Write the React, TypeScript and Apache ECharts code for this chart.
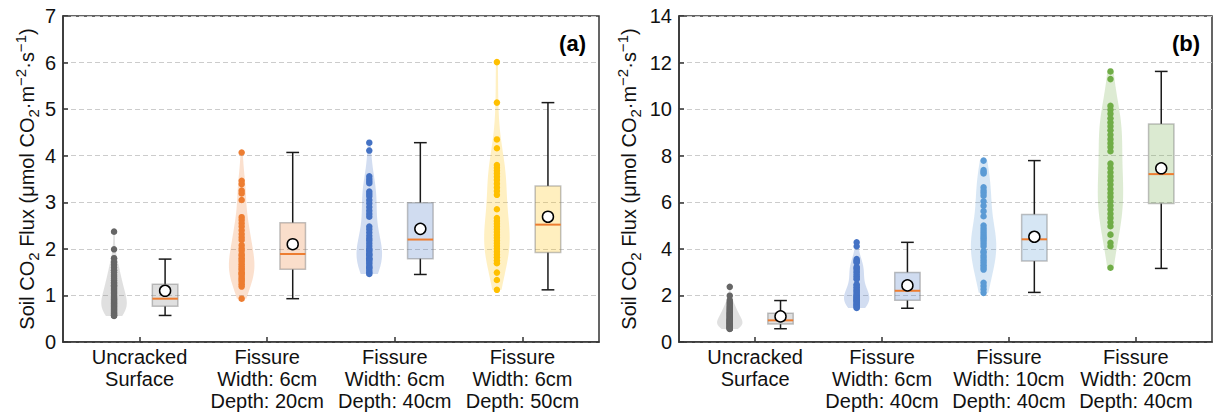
import React, { useEffect, useRef } from "react";
import * as echarts from "echarts";

const FONT = "'Liberation Sans', Arial, Helvetica, sans-serif";

// ---- categories / tick labels ----
const labelsA = [
  "Uncracked\nSurface",
  "Fissure\nWidth: 6cm\nDepth: 20cm",
  "Fissure\nWidth: 6cm\nDepth: 40cm",
  "Fissure\nWidth: 6cm\nDepth: 50cm",
];
const labelsB = [
  "Uncracked\nSurface",
  "Fissure\nWidth: 6cm\nDepth: 40cm",
  "Fissure\nWidth: 10cm\nDepth: 40cm",
  "Fissure\nWidth: 20cm\nDepth: 40cm",
];
const categoryTicks = [0, 1, 2, 3];

// ---- measured points (µmol CO2 m-2 s-1) ----
const uncracked = [2.37, 1.99, 1.8, 1.72, 1.66, 1.6, 1.54, 1.49, 1.44, 1.4, 1.36, 1.32, 1.28, 1.25, 1.22, 1.19, 1.16, 1.13, 1.1, 1.07, 1.04, 1.01, 0.98, 0.96, 0.94, 0.92, 0.9, 0.88, 0.86, 0.84, 0.82, 0.8, 0.78, 0.76, 0.74, 0.72, 0.7, 0.68, 0.66, 0.64, 0.62, 0.6, 0.58, 0.57, 0.56];
const w6d20 = [4.07, 3.46, 3.39, 3.25, 3.19, 3.05, 2.68, 2.62, 2.55, 2.48, 2.4, 2.32, 2.25, 2.19, 2.08, 2.01, 1.96, 1.89, 1.85, 1.8, 1.76, 1.72, 1.67, 1.62, 1.58, 1.55, 1.5, 1.47, 1.45, 1.4, 1.36, 1.33, 1.29, 1.24, 1.19, 0.93];
const w6d40 = [4.28, 4.11, 3.56, 3.5, 3.45, 3.41, 3.23, 3.18, 3.13, 3.05, 2.98, 2.9, 2.82, 2.75, 2.69, 2.48, 2.42, 2.35, 2.28, 2.22, 2.18, 2.12, 2.06, 2.0, 1.98, 1.95, 1.9, 1.88, 1.85, 1.8, 1.78, 1.76, 1.72, 1.68, 1.63, 1.6, 1.58, 1.53, 1.49, 1.46];
const w6d50 = [6.01, 5.14, 4.35, 4.16, 3.8, 3.74, 3.68, 3.62, 3.55, 3.48, 3.4, 3.32, 3.24, 3.16, 2.85, 2.66, 2.6, 2.54, 2.48, 2.42, 2.36, 2.3, 2.24, 2.18, 2.12, 2.06, 2.0, 1.94, 1.88, 1.82, 1.75, 1.69, 1.49, 1.33, 1.12];
const w10d40 = [7.79, 7.38, 7.3, 7.24, 6.64, 6.5, 6.4, 6.28, 6.04, 5.85, 5.62, 5.4, 5.0, 4.88, 4.78, 4.68, 4.58, 4.5, 4.42, 4.33, 4.22, 4.11, 3.9, 3.83, 3.7, 3.61, 3.5, 3.4, 3.3, 3.2, 3.11, 2.54, 2.4, 2.26, 2.11];
const w20d40 = [11.62, 11.29, 10.14, 9.97, 9.8, 9.61, 9.43, 9.26, 9.09, 8.9, 8.71, 8.54, 8.37, 8.19, 7.66, 7.47, 7.29, 7.11, 6.94, 6.76, 6.57, 6.4, 6.23, 6.04, 5.86, 5.69, 5.51, 5.33, 5.14, 4.97, 4.61, 4.26, 4.11, 3.19];

// ---- box statistics: [lower whisker, Q1, median, Q3, upper whisker, mean] ----
const statsUncracked = [0.57, 0.77, 0.93, 1.24, 1.78, 1.1];
const statsW6d20 = [0.93, 1.56, 1.89, 2.56, 4.07, 2.1];
const statsW6d40 = [1.45, 1.79, 2.2, 2.99, 4.28, 2.43];
const statsW6d50 = [1.12, 1.92, 2.52, 3.35, 5.14, 2.69];
const statsW10d40 = [2.13, 3.48, 4.41, 5.48, 7.79, 4.52];
const statsW20d40 = [3.16, 5.95, 7.21, 9.36, 11.62, 7.46];

// ---- colours ----
const GRAY = "#7f7f7f";
const GRAY_PT = "#666666";
const ORANGE = "#ED7D31";
const BLUE = "#4472C4";
const YELLOW = "#FFC000";
const LBLUE = "#5B9BD5";
const GREEN = "#70AD47";

const yTicksA = { min: 0, max: 7, interval: 1 };
const yTicksB = { min: 0, max: 14, interval: 2 };

function rgba(hex: string, a: number) {
  const h = hex.replace("#", "");
  const r = parseInt(h.slice(0, 2), 16);
  const g = parseInt(h.slice(2, 4), 16);
  const b = parseInt(h.slice(4, 6), 16);
  return `rgba(${r},${g},${b},${a})`;
}

// Gaussian KDE (Scott's rule) outline, clipped to data extrema
function violinPoly(vals: number[], center: number, halfW: number) {
  const n = vals.length;
  const mean = vals.reduce((a, b) => a + b, 0) / n;
  const sd = Math.sqrt(vals.reduce((a, b) => a + (b - mean) ** 2, 0) / (n - 1));
  const bw = sd * Math.pow(n, -0.2);
  const lo = Math.min(...vals);
  const hi = Math.max(...vals);
  const steps = 100;
  const ys: number[] = [];
  const ds: number[] = [];
  for (let k = 0; k <= steps; k++) {
    const y = lo + ((hi - lo) * k) / steps;
    let d = 0;
    for (const v of vals) d += Math.exp(-0.5 * ((y - v) / bw) ** 2);
    ys.push(y);
    ds.push(d);
  }
  const maxD = Math.max(...ds);
  const right = ys.map((y, k) => [center + (halfW * ds[k]) / maxD, y]);
  const left = ys.map((y, k) => [center - (halfW * ds[k]) / maxD, y]).reverse();
  return right.concat(left);
}

const yName = "Soil CO{sub|2} Flux (μmol CO{sub|2}·m{sup|−2}·s{sup|−1})";

function buildPanel(
  idx: number,
  groups: number[][],
  stats: number[][],
  colors: string[],
  ptColors: string[],
  labels: string[],
  yt: { min: number; max: number; interval: number },
  nameGap: number
) {
  const axisLineStyle = { color: "#333", width: 1.5 };
  const xAxis = {
    type: "value",
    gridIndex: idx,
    min: -0.6,
    max: 3.6,
    axisLine: { show: true, onZero: false, lineStyle: axisLineStyle },
    axisTick: { show: true, inside: true, length: 5, customValues: categoryTicks, lineStyle: axisLineStyle },
    axisLabel: {
      customValues: categoryTicks,
      formatter: (v: number) => labels[Math.round(v)] ?? "",
      fontSize: 20,
      lineHeight: 22,
      margin: 4,
      color: "#111",
      fontFamily: FONT,
    },
    splitLine: { show: false },
  };
  const yAxis = {
    type: "value",
    gridIndex: idx,
    min: yt.min,
    max: yt.max,
    interval: yt.interval,
    axisLine: { show: true, onZero: false, lineStyle: axisLineStyle },
    axisTick: { show: true, inside: true, length: 5, lineStyle: axisLineStyle },
    axisLabel: { fontSize: 20, color: "#111", margin: 7, fontFamily: FONT },
    splitLine: { show: true, lineStyle: { color: "#cccccc", type: [5, 3], width: 1 } },
    name: yName,
    nameLocation: "middle",
    nameRotate: 90,
    nameGap,
    nameTextStyle: {
      fontSize: 20,
      lineHeight: 28,
      color: "#111",
      fontFamily: FONT,
      rich: {
        sub: { fontSize: 15, lineHeight: 14, verticalAlign: "bottom", color: "#111", fontFamily: FONT },
        sup: { fontSize: 15, lineHeight: 12, verticalAlign: "top", color: "#111", fontFamily: FONT },
      },
    },
  };

  const polys = groups.map((g, i) => violinPoly(g, i - 0.2, 0.1));

  const violinSeries = {
    type: "custom",
    xAxisIndex: idx,
    yAxisIndex: idx,
    z: 1,
    silent: true,
    data: groups.map((g, i) => [i - 0.2, g[0]]),
    renderItem: (params: any, api: any) => {
      const i = params.dataIndex;
      const pts = polys[i].map((p) => api.coord(p));
      return {
        type: "polygon",
        shape: { points: pts },
        style: { fill: rgba(colors[i], 0.24), stroke: "none" },
      };
    },
  };

  const scatterSeries = {
    type: "scatter",
    xAxisIndex: idx,
    yAxisIndex: idx,
    z: 3,
    symbolSize: 6.5,
    silent: true,
    data: groups.flatMap((g, i) =>
      g.map((v) => ({ value: [i - 0.2, v], itemStyle: { color: ptColors[i], opacity: 1 } }))
    ),
  };

  const boxSeries = {
    type: "custom",
    xAxisIndex: idx,
    yAxisIndex: idx,
    z: 2,
    silent: true,
    data: stats.map((s, i) => [i + 0.2, s[2]]),
    renderItem: (params: any, api: any) => {
      const i = params.dataIndex;
      const [lo, q1, med, q3, hi, mean] = stats[i];
      const xc = i + 0.2;
      const P = (x: number, y: number) => api.coord([x, y]);
      const ls = { stroke: "#1a1a1a", lineWidth: 1.5 };
      const seg = (x1: number, y1: number, x2: number, y2: number, style: any) => {
        const a = P(x1, y1);
        const b = P(x2, y2);
        return { type: "line", shape: { x1: a[0], y1: a[1], x2: b[0], y2: b[1] }, style };
      };
      const tl = P(xc - 0.1, q3);
      const br = P(xc + 0.1, q1);
      const m = P(xc, mean);
      return {
        type: "group",
        children: [
          seg(xc, lo, xc, q1, ls),
          seg(xc, q3, xc, hi, ls),
          seg(xc - 0.05, lo, xc + 0.05, lo, ls),
          seg(xc - 0.05, hi, xc + 0.05, hi, ls),
          {
            type: "rect",
            shape: { x: tl[0], y: tl[1], width: br[0] - tl[0], height: br[1] - tl[1] },
            style: { fill: rgba(colors[i], 0.25), stroke: "rgba(120,120,120,0.45)", lineWidth: 1.5 },
          },
          seg(xc - 0.1, med, xc + 0.1, med, { stroke: ORANGE, lineWidth: 2 }),
          {
            type: "circle",
            shape: { cx: m[0], cy: m[1], r: 5.5 },
            style: { fill: "#ffffff", stroke: "#000000", lineWidth: 1.5 },
          },
        ],
      };
    },
  };

  return { xAxis, yAxis, series: [violinSeries, boxSeries, scatterSeries] };
}

export default function App() {
  const ref = useRef<HTMLDivElement>(null);
  useEffect(() => {
    if (!ref.current) return;
    const chart = echarts.init(ref.current, undefined, { renderer: "svg" });
    const a = buildPanel(
      0,
      [uncracked, w6d20, w6d40, w6d50],
      [statsUncracked, statsW6d20, statsW6d40, statsW6d50],
      [GRAY, ORANGE, BLUE, YELLOW],
      [GRAY_PT, ORANGE, BLUE, YELLOW],
      labelsA,
      yTicksA,
      21
    );
    const b = buildPanel(
      1,
      [uncracked, w6d40, w10d40, w20d40],
      [statsUncracked, statsW6d40, statsW10d40, statsW20d40],
      [GRAY, BLUE, LBLUE, GREEN],
      [GRAY_PT, BLUE, LBLUE, GREEN],
      labelsB,
      yTicksB,
      36
    );
    chart.setOption({
      animation: false,
      backgroundColor: "#ffffff",
      textStyle: { fontFamily: FONT },
      grid: [
        { left: 63, top: 16, width: 536, height: 326, show: true, borderColor: "#333", borderWidth: 1.5, backgroundColor: "transparent" },
        { left: 679, top: 16, width: 533, height: 326, show: true, borderColor: "#333", borderWidth: 1.5, backgroundColor: "transparent" },
      ],
      xAxis: [a.xAxis, b.xAxis],
      yAxis: [a.yAxis, b.yAxis],
      series: [...a.series, ...b.series],
      graphic: [
        {
          type: "text",
          x: 586,
          y: 43,
          style: { text: "(a)", fontSize: 22, fontWeight: "bold", fontFamily: FONT, fill: "#000", align: "right", verticalAlign: "middle" },
        },
        {
          type: "text",
          x: 1200,
          y: 43,
          style: { text: "(b)", fontSize: 22, fontWeight: "bold", fontFamily: FONT, fill: "#000", align: "right", verticalAlign: "middle" },
        },
      ],
    });
    return () => chart.dispose();
  }, []);
  return (
    <div
      ref={ref}
      style={{ position: "fixed", left: 0, top: 0, width: 1213, height: 413 }}
    />
  );
}
